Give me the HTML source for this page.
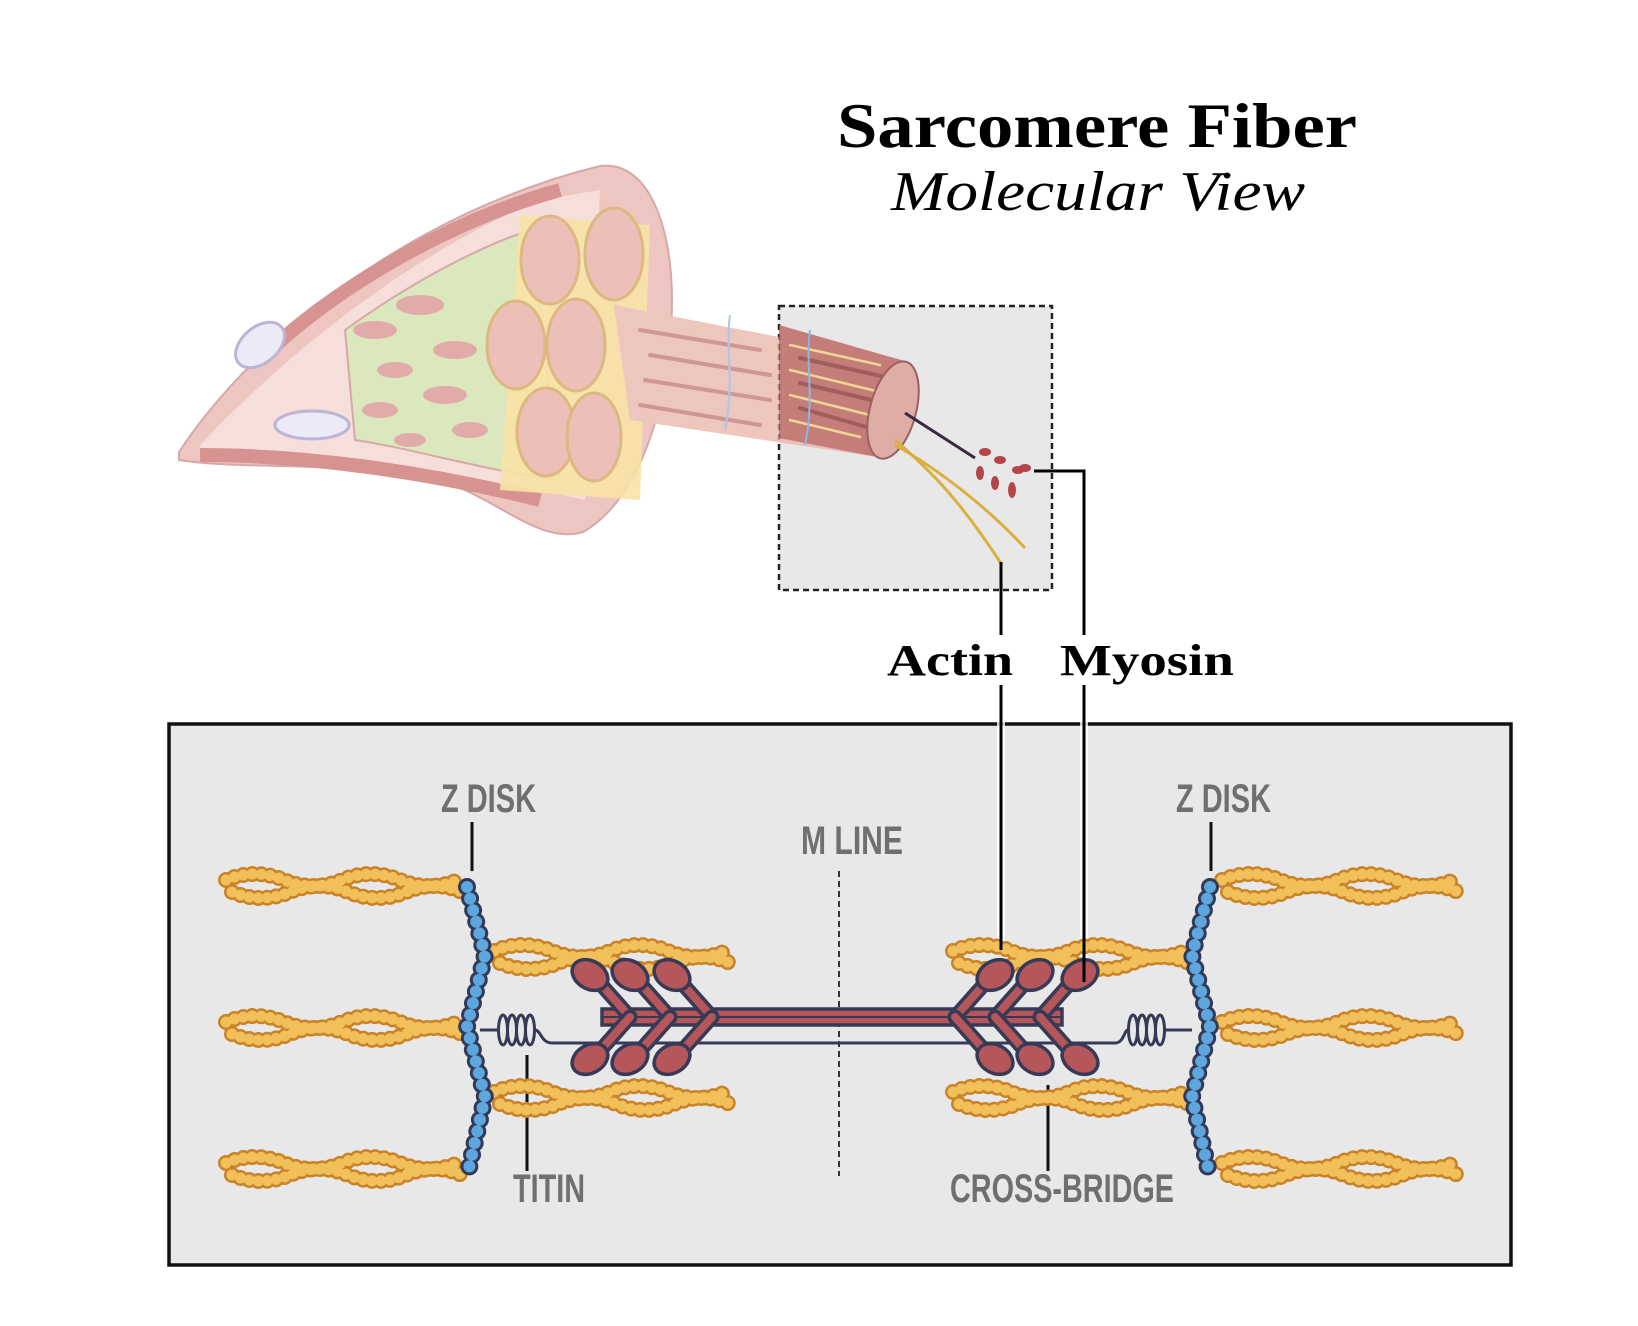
<!DOCTYPE html>
<html><head><meta charset="utf-8"><style>
html,body{margin:0;padding:0;background:#fff;}
svg{display:block;}
.lbl{font-family:"Liberation Sans Narrow","Liberation Sans",sans-serif;font-weight:bold;fill:#6f6f6f;font-size:40px;}
</style></head><body>
<svg width="1638" height="1326" viewBox="0 0 1638 1326" xmlns="http://www.w3.org/2000/svg">
<defs>
  <g id="fil">
    <path d="M0,0 Q29,-12 58,0 T116,0 T174,0 T232,0" fill="none" stroke="#c98228" stroke-width="16" stroke-linecap="round" stroke-dasharray="0 9"/>
    <path d="M6,12 Q35,24 64,12 T122,12 T180,12 T236,12" fill="none" stroke="#c98228" stroke-width="16" stroke-linecap="round" stroke-dasharray="0 9"/>
    <path d="M0,0 Q29,-12 58,0 T116,0 T174,0 T232,0" fill="none" stroke="#f2c05a" stroke-width="11" stroke-linecap="round" stroke-dasharray="0 9"/>
    <path d="M6,12 Q35,24 64,12 T122,12 T180,12 T236,12" fill="none" stroke="#f2c05a" stroke-width="11" stroke-linecap="round" stroke-dasharray="0 9"/>
  </g>
  <g id="zd">
    <path d="M0,0 L18,68 L0,140 L18,210 L0,290" fill="none" stroke="#323a58" stroke-width="18" stroke-linecap="round" stroke-dasharray="0 12"/>
    <path d="M0,0 L18,68 L0,140 L18,210 L0,290" fill="none" stroke="#5ea6de" stroke-width="12" stroke-linecap="round" stroke-dasharray="0 12"/>
  </g>
  <g id="head">
    <path d="M0,0 L-32,-36" stroke="#363a56" stroke-width="15" stroke-linecap="round"/>
    <path d="M0,0 L-32,-36" stroke="#b4565a" stroke-width="8" stroke-linecap="round"/>
    <ellipse cx="-40" cy="-42" rx="19" ry="14" transform="rotate(30 -40 -42)" fill="#b4565a" stroke="#363a56" stroke-width="3.5"/>
  </g>
  <g id="coil" fill="none" stroke="#363a56" stroke-width="3">
    <ellipse cx="5" cy="4" rx="4.5" ry="15"/>
    <ellipse cx="14" cy="4" rx="4.5" ry="15"/>
    <ellipse cx="23" cy="4" rx="4.5" ry="15"/>
    <ellipse cx="32" cy="4" rx="4.5" ry="15"/>
  </g>
</defs>

<!-- Title -->
<text x="1097" y="147" text-anchor="middle" font-family="'Liberation Serif',serif" font-weight="bold" font-size="64" textLength="520" lengthAdjust="spacingAndGlyphs" fill="#000">Sarcomere Fiber</text>
<text x="1098" y="210" text-anchor="middle" font-family="'Liberation Serif',serif" font-style="italic" font-size="56" textLength="414" lengthAdjust="spacingAndGlyphs" fill="#000">Molecular View</text>

<!-- dashed box -->
<rect x="779" y="306" width="273" height="284" fill="#e8e8e8" stroke="#222" stroke-width="2.5" stroke-dasharray="6 4"/>

<!-- muscle illustration (faded) -->
<g opacity="0.75">
  <path d="M179,452 C260,330 420,210 600,166 C650,160 672,230 672,300 C672,400 640,500 583,532 C540,545 500,500 440,480 C330,460 240,470 179,460 Z" fill="#e9b3ad" stroke="#c98c8a" stroke-width="2"/>
  <path d="M200,445 C300,340 420,250 540,200 L600,190 L585,500 C500,480 350,460 200,452 Z" fill="#f3d3cf"/>
  <path d="M345,330 C400,290 470,250 530,230 L560,480 C480,470 420,450 355,440 Z" fill="#cfe0a6" stroke="#c98c8a" stroke-width="2"/>
  <g fill="#d8908e">
    <ellipse cx="375" cy="330" rx="22" ry="9"/><ellipse cx="420" cy="305" rx="24" ry="10"/><ellipse cx="455" cy="350" rx="22" ry="9"/>
    <ellipse cx="395" cy="370" rx="18" ry="8"/><ellipse cx="445" cy="395" rx="22" ry="9"/><ellipse cx="380" cy="410" rx="18" ry="8"/>
    <ellipse cx="470" cy="430" rx="18" ry="8"/><ellipse cx="410" cy="440" rx="16" ry="7"/>
  </g>
  <path d="M260,360 C330,290 450,220 560,190" fill="none" stroke="#c9706e" stroke-width="14"/>
  <path d="M200,455 C300,455 420,470 540,500" fill="none" stroke="#c9706e" stroke-width="14"/>
  <ellipse cx="260" cy="345" rx="28" ry="18" transform="rotate(-40 260 345)" fill="#e6e3f3" stroke="#a89cc8" stroke-width="3"/>
  <ellipse cx="312" cy="425" rx="37" ry="14" fill="#e6e3f3" stroke="#a89cc8" stroke-width="3"/>
  <path d="M520,215 L650,225 L640,500 L500,490 Z" fill="#f6d98a" opacity="0.9"/>
  <g fill="#e7aaa2" stroke="#d0a255" stroke-width="3">
    <ellipse cx="550" cy="260" rx="29" ry="44"/><ellipse cx="614" cy="254" rx="29" ry="46"/>
    <ellipse cx="516" cy="345" rx="29" ry="44"/><ellipse cx="576" cy="345" rx="29" ry="46"/>
    <ellipse cx="546" cy="432" rx="29" ry="44"/><ellipse cx="594" cy="437" rx="27" ry="44"/>
  </g>
  <path d="M614,305 L908,362 L877,457 L630,420 Z" fill="#e8b3a8"/>
  <path d="M779,325 L908,362 L877,457 L779,438 Z" fill="#b95a55"/>
  <g stroke="#c07570" stroke-width="4" stroke-linecap="round">
    <line x1="640" y1="330" x2="760" y2="350"/><line x1="650" y1="355" x2="770" y2="375"/><line x1="645" y1="380" x2="770" y2="400"/><line x1="640" y1="405" x2="760" y2="425"/>
  </g>
  <g stroke="#f3d07a" stroke-width="2.5" stroke-linecap="round">
    <line x1="790" y1="345" x2="880" y2="365"/><line x1="790" y1="370" x2="880" y2="392"/><line x1="790" y1="395" x2="870" y2="415"/><line x1="790" y1="420" x2="860" y2="437"/>
  </g>
  <g stroke="#8a2e30" stroke-width="4" stroke-linecap="round">
    <line x1="800" y1="358" x2="890" y2="378"/><line x1="800" y1="383" x2="880" y2="402"/><line x1="800" y1="408" x2="870" y2="428"/>
  </g>
  <path d="M730,315 C725,350 735,380 725,430" fill="none" stroke="#8ab8e0" stroke-width="2"/>
  <path d="M810,330 C805,360 815,400 805,445" fill="none" stroke="#6aa8e0" stroke-width="2"/>
  <ellipse cx="893" cy="410" rx="23" ry="50" transform="rotate(15 893 410)" fill="#dd9a8f" stroke="#7b3438" stroke-width="2"/>
</g>
<path d="M905,413 L975,458" stroke="#3a2a40" stroke-width="3"/>
<g fill="#b4464a">
  <ellipse cx="985" cy="452" rx="6" ry="4"/><ellipse cx="1000" cy="460" rx="6" ry="4"/><ellipse cx="1018" cy="470" rx="6" ry="4"/>
  <ellipse cx="980" cy="473" rx="4" ry="7"/><ellipse cx="995" cy="483" rx="4" ry="7"/><ellipse cx="1012" cy="490" rx="4" ry="8"/><ellipse cx="1025" cy="468" rx="6" ry="4"/>
</g>
<path d="M895,440 C930,470 960,500 1002,565" stroke="#d9b040" stroke-width="3" fill="none"/>
<path d="M895,445 C940,470 990,510 1025,548" stroke="#d9b040" stroke-width="3" fill="none"/>

<!-- callout lines -->
<path d="M1001,562 L1001,635" stroke="#000" stroke-width="3" fill="none"/>
<path d="M1034,471 L1084,471 L1084,635" stroke="#000" stroke-width="3" fill="none"/>
<text x="887" y="675" font-family="'Liberation Serif',serif" font-weight="bold" font-size="44" textLength="126" lengthAdjust="spacingAndGlyphs">Actin</text>
<text x="1060" y="675" font-family="'Liberation Serif',serif" font-weight="bold" font-size="44" textLength="174" lengthAdjust="spacingAndGlyphs">Myosin</text>

<!-- main box -->
<rect x="169" y="724" width="1342" height="541" fill="#e8e8e8" stroke="#111" stroke-width="3.5"/>
<path d="M1001,685 L1001,950" stroke="#fff" stroke-width="8" opacity="0.8"/>
<path d="M1084,685 L1084,982" stroke="#fff" stroke-width="8" opacity="0.8"/>

<text class="lbl" x="441" y="812" textLength="95" lengthAdjust="spacingAndGlyphs">Z DISK</text>
<text class="lbl" x="1176" y="812" textLength="95" lengthAdjust="spacingAndGlyphs">Z DISK</text>
<text class="lbl" x="801" y="854" textLength="102" lengthAdjust="spacingAndGlyphs">M LINE</text>
<text class="lbl" x="513" y="1202" textLength="72" lengthAdjust="spacingAndGlyphs">TITIN</text>
<text class="lbl" x="950" y="1202" textLength="224" lengthAdjust="spacingAndGlyphs">CROSS-BRIDGE</text>

<g stroke="#111" stroke-width="3">
  <line x1="472" y1="822" x2="472" y2="871"/>
  <line x1="1211" y1="822" x2="1211" y2="871"/>
  <line x1="527" y1="1055" x2="527" y2="1171"/>
  <line x1="1048" y1="1085" x2="1048" y2="1171"/>
</g>
<line x1="839" y1="871" x2="839" y2="1176" stroke="#333" stroke-width="2" stroke-dasharray="6 4"/>

<!-- filaments -->
<use href="#fil" x="226" y="880"/>
<use href="#fil" x="226" y="1022"/>
<use href="#fil" x="226" y="1163"/>
<use href="#fil" x="494" y="951"/>
<use href="#fil" x="494" y="1092"/>
<use href="#fil" x="953" y="951"/>
<use href="#fil" x="953" y="1092"/>
<use href="#fil" x="1222" y="880"/>
<use href="#fil" x="1222" y="1022"/>
<use href="#fil" x="1222" y="1163"/>

<!-- titin -->
<path d="M480,1030 L498,1030" stroke="#363a56" stroke-width="3" fill="none"/>
<use href="#coil" x="498" y="1026"/>
<path d="M535,1030 C541,1030 541,1043 552,1043 L1115,1043 C1124,1043 1124,1030 1128,1030" stroke="#363a56" stroke-width="3" fill="none"/>
<use href="#coil" x="1128" y="1026"/>
<path d="M1165,1030 L1192,1030" stroke="#363a56" stroke-width="3" fill="none"/>

<!-- myosin rod -->
<rect x="602" y="1009" width="460" height="16" fill="#b4565a" stroke="#363a56" stroke-width="3.5"/>
<line x1="602" y1="1017" x2="1062" y2="1017" stroke="#363a56" stroke-width="2"/>
<g>
  <use href="#head" x="630" y="1017"/><use href="#head" x="670" y="1017"/><use href="#head" x="712" y="1017"/>
  <use href="#head" transform="translate(630 1017) scale(1 -1)"/><use href="#head" transform="translate(670 1017) scale(1 -1)"/><use href="#head" transform="translate(712 1017) scale(1 -1)"/>
  <use href="#head" transform="translate(955 1017) scale(-1 1)"/><use href="#head" transform="translate(995 1017) scale(-1 1)"/><use href="#head" transform="translate(1040 1017) scale(-1 1)"/>
  <use href="#head" transform="translate(955 1017) scale(-1 -1)"/><use href="#head" transform="translate(995 1017) scale(-1 -1)"/><use href="#head" transform="translate(1040 1017) scale(-1 -1)"/>
</g>

<!-- z disks -->
<use href="#zd" x="467" y="887"/>
<use href="#zd" transform="translate(1210 887) scale(-1 1)"/>

<line x1="1001" y1="685" x2="1001" y2="950" stroke="#000" stroke-width="3"/>
<line x1="1084" y1="685" x2="1084" y2="982" stroke="#000" stroke-width="3"/>
</svg>
</body></html>
